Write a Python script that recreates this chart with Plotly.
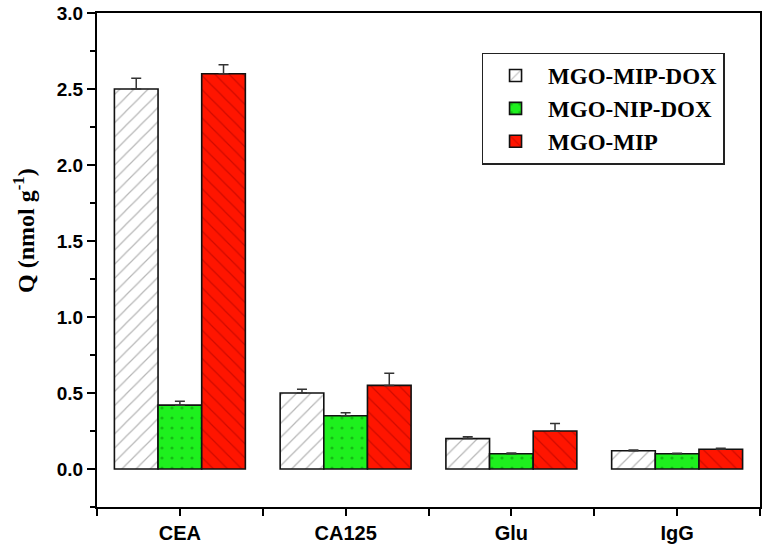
import plotly.graph_objects as go

categories = ["CEA", "CA125", "Glu", "IgG"]
series_names = ["MGO-MIP-DOX", "MGO-NIP-DOX", "MGO-MIP"]
mip_dox = [2.50, 0.50, 0.20, 0.12]
mip_dox_err = [0.07, 0.025, 0.012, 0.005]
nip_dox = [0.42, 0.35, 0.10, 0.10]
nip_dox_err = [0.025, 0.02, 0.005, 0.004]
mip = [2.60, 0.55, 0.25, 0.13]
mip_err = [0.06, 0.08, 0.05, 0.006]
y_ticks = [0, 0.5, 1.0, 1.5, 2.0, 2.5, 3.0]

x_pos = list(range(len(categories)))

styles = [
    dict(fill="white", shape="/", fg="#6e6e6e"),
    dict(fill="#1ef01e", shape=".", fg="#0a8a0a"),
    dict(fill="#ff1500", shape="\\", fg="#a00000"),
]
vals = [mip_dox, nip_dox, mip]
errs = [mip_dox_err, nip_dox_err, mip_err]

fig = go.Figure()
for name, v, e, st in zip(series_names, vals, errs, styles):
    fig.add_trace(go.Bar(
        x=x_pos, y=v, name="<b>" + name + "</b>",
        marker=dict(color=st["fill"], line=dict(color="#111111", width=1.6),
                    pattern=dict(shape=st["shape"], fgcolor=st["fg"], bgcolor=st["fill"],
                                 size=10, solidity=0.12 if st["shape"] != "." else 0.08,
                                 fillmode="overlay")),
        error_y=dict(type="data", array=e, arrayminus=[0]*len(e), symmetric=False,
                     color="#333333", thickness=1.5, width=5),
    ))

fig.update_layout(
    width=768, height=548,
    margin=dict(l=97, r=8, t=13, b=41, autoexpand=False),
    plot_bgcolor="white", paper_bgcolor="white",
    barmode="group", bargap=0.21, bargroupgap=0,
    showlegend=True,
    legend=dict(x=0.58, y=0.92, xanchor="left", yanchor="top",
                bordercolor="#222", borderwidth=1.5, bgcolor="white",
                font=dict(family="Liberation Serif", size=23, color="black"),
                tracegroupgap=0, itemwidth=55),
    xaxis=dict(range=[-0.5, 3.5], tickvals=x_pos, ticktext=["<b>%s</b>" % c for c in categories],
               showline=True, linecolor="black", linewidth=2.2, mirror=True, automargin=False,
               ticks="outside", ticklen=7, tickwidth=2, tickcolor="black",
               minor=dict(tickvals=[-0.5, 0.5, 1.5, 2.5, 3.5], ticks="outside", ticklen=7,
                          tickwidth=2, tickcolor="black"),
               showgrid=False, zeroline=False,
               tickfont=dict(family="Liberation Sans", size=20, color="black")),
    yaxis=dict(range=[-0.25, 3.0], tickvals=y_ticks,
               ticktext=["<b>%.1f</b>" % t for t in y_ticks],
               showline=True, linecolor="black", linewidth=2.2, mirror=True, automargin=False,
               ticks="outside", ticklen=8, tickwidth=2, tickcolor="black",
               minor=dict(dtick=0.25, tick0=0, ticks="outside", ticklen=5, tickwidth=2,
                          tickcolor="black"),
               showgrid=False, zeroline=False,
               tickfont=dict(family="Liberation Sans", size=19, color="black")),
    annotations=[dict(text="<b>Q (nmol g<sup>-1</sup>)</b>", xref="paper", yref="paper",
                      x=-0.11, y=0.559, xanchor="center", yanchor="middle",
                      textangle=-90, showarrow=False,
                      font=dict(family="Liberation Serif", size=24, color="black"))],
)

fig.write_html("out.html", config={"displayModeBar": False},
               post_script="document.body.style.margin='0';")
